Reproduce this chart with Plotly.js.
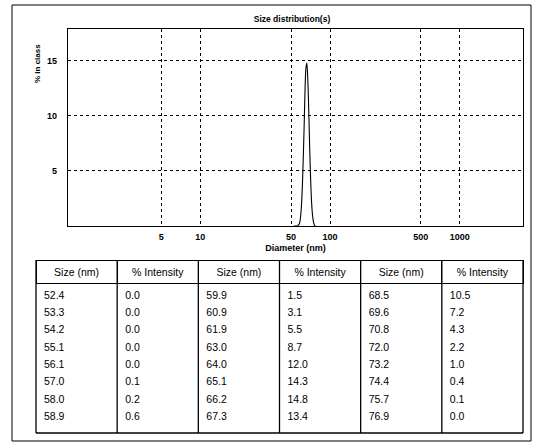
<!DOCTYPE html>
<html>
<head>
<meta charset="utf-8">
<script src="https://cdn.plot.ly/plotly-3.0.1.min.js"></script>
<style>html,body{margin:0;padding:0;background:#fff;}#chart{width:533px;height:447px;}</style>
</head>
<body>
<div id="chart"></div>
<script>
// ---- data ----
var sizes = [52.4, 53.3, 54.2, 55.1, 56.1, 57.0, 58.0, 58.9,
             59.9, 60.9, 61.9, 63.0, 64.0, 65.1, 66.2, 67.3,
             68.5, 69.6, 70.8, 72.0, 73.2, 74.4, 75.7, 76.9];
var intensity = [0.0, 0.0, 0.0, 0.0, 0.0, 0.1, 0.2, 0.6,
                 1.5, 3.1, 5.5, 8.7, 12.0, 14.3, 14.8, 13.4,
                 10.5, 7.2, 4.3, 2.2, 1.0, 0.4, 0.1, 0.0];
var xTickVals = [5, 10, 50, 100, 500, 1000];
var xTickText = ['5', '10', '50', '100', '500', '1000'];
var yTickVals = [5, 10, 15];
var yTickText = ['5', '10', '15'];
var tableHeaders = ['Size (nm)', '% Intensity', 'Size (nm)', '% Intensity', 'Size (nm)', '% Intensity'];
var rowsPerBlock = 8;

// ---- layout geometry ----
var W = 533, H = 447;
var M = {l: 36, r: 10, t: 29, b: 14};
var PW = W - M.l - M.r, PH = H - M.t - M.b;
function px(x) { return (x - M.l) / PW; }
function py(y) { return (H - M.b - y) / PH; }

// build table columns from the data
var tableCols = [];
for (var b = 0; b * rowsPerBlock < sizes.length; b++) {
  var s = sizes.slice(b * rowsPerBlock, (b + 1) * rowsPerBlock).map(function (v) { return v.toFixed(1); });
  var it = intensity.slice(b * rowsPerBlock, (b + 1) * rowsPerBlock).map(function (v) { return v.toFixed(1); });
  tableCols.push(s, it);
}

var font = 'Liberation Sans, Arial, sans-serif';

var curve = {
  type: 'scatter', mode: 'lines',
  x: sizes, y: intensity,
  line: {color: '#000', width: 1.1, shape: 'spline', smoothing: 0.8},
  xaxis: 'x', yaxis: 'y', hoverinfo: 'skip', showlegend: false
};

var tableTop = 260, tableBottom = 433;
var table = {
  type: 'table',
  domain: {x: [0, 1], y: [0, py(tableTop)]},
  columnwidth: tableHeaders.map(function () { return 1; }),
  header: {
    values: tableHeaders,
    align: 'center',
    height: 23,
    fill: {color: '#fff'},
    line: {color: '#000', width: 1},
    font: {family: font, size: 10.5, color: '#000'}
  },
  cells: {
    values: tableCols,
    align: 'left',
    height: 17.3,
    fill: {color: '#fff'},
    line: {color: 'rgba(0,0,0,0)', width: 0},
    font: {family: font, size: 10.5, color: '#000'}
  }
};

// table frame + column dividers
var shapes = [];
var tL = M.l, tR = W - M.r;
for (var c = 0; c <= tableHeaders.length; c++) {
  var xx = tL + (tR - tL) * c / tableHeaders.length;
  shapes.push({type: 'line', xref: 'paper', yref: 'paper',
    x0: px(xx), x1: px(xx), y0: py(tableTop), y1: py(tableBottom),
    line: {color: '#000', width: 1.3}});
}
shapes.push({type: 'line', xref: 'paper', yref: 'paper',
  x0: px(tL), x1: px(tR), y0: py(tableBottom), y1: py(tableBottom),
  line: {color: '#000', width: 1.3}});
// outer border
shapes.push({type: 'rect', xref: 'paper', yref: 'paper',
  x0: px(12), x1: px(531), y0: py(5), y1: py(441),
  line: {color: '#000', width: 1}});

var axFont = {family: font, size: 9, color: '#000', weight: 'bold'};

var layout = {
  width: W, height: H,
  margin: M,
  paper_bgcolor: '#fff', plot_bgcolor: '#fff',
  showlegend: false,
  title: {
    text: 'Size distribution(s)',
    font: {family: font, size: 8.5, color: '#000', weight: 'bold'},
    xref: 'paper', x: px(292), xanchor: 'center',
    yref: 'container', y: 1 - 19 / H, yanchor: 'middle'
  },
  xaxis: {
    type: 'log',
    domain: [px(68), 1],
    range: [-0.02, 3.487],
    tickvals: xTickVals, ticktext: xTickText,
    ticks: '', ticklabelstandoff: 2,
    tickfont: axFont,
    showgrid: true, gridcolor: '#000', gridwidth: 1, griddash: 'dot',
    showline: true, linecolor: '#000', linewidth: 1.2, mirror: true,
    zeroline: false,
    title: {text: 'Diameter (nm)', font: axFont, standoff: 3}
  },
  yaxis: {
    domain: [py(226), 1],
    range: [0, 17.9],
    tickvals: yTickVals, ticktext: yTickText,
    ticks: '', ticklabelstandoff: 8,
    tickfont: axFont,
    showgrid: true, gridcolor: '#000', gridwidth: 1, griddash: 'dot',
    showline: true, linecolor: '#000', linewidth: 1.2, mirror: true,
    zeroline: false
  },
  annotations: [{
    text: '% in class', textangle: -90,
    xref: 'paper', yref: 'paper', x: px(38), y: py(64),
    xanchor: 'center', yanchor: 'middle', showarrow: false,
    font: {family: 'Liberation Sans Narrow, ' + font, size: 8, color: '#000', weight: 'bold'}
  }],
  shapes: shapes
};

Plotly.newPlot('chart', [curve, table], layout, {staticPlot: true, displayModeBar: false});
</script>
</body>
</html>
